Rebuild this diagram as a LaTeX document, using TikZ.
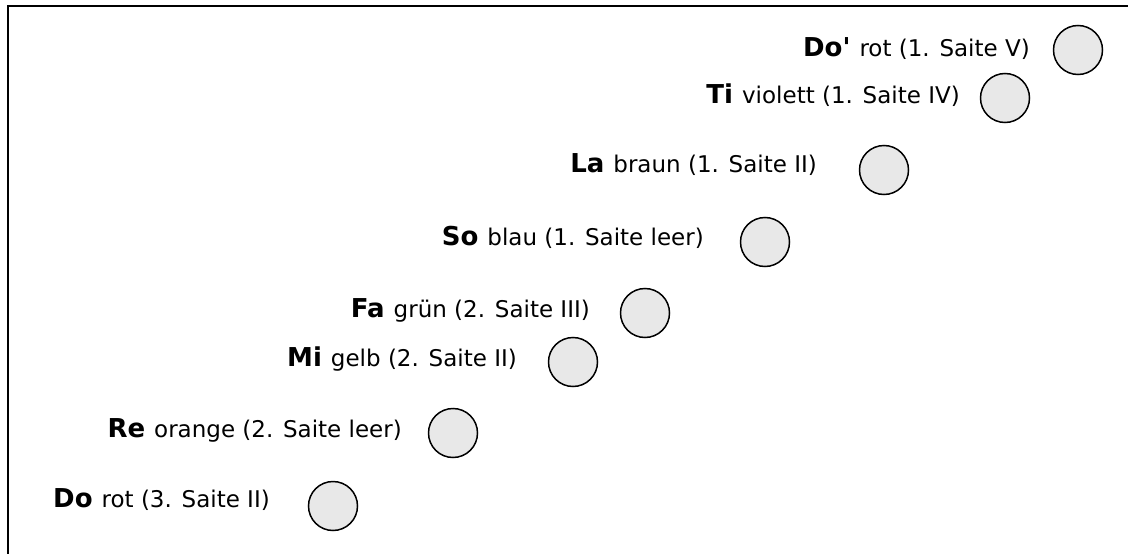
\documentclass[tikz,border=0pt]{standalone}
\usepackage{fontspec}
\setmainfont{DejaVu Sans}[Ligatures=TeXOff]
\begin{document}
\begin{tikzpicture}[x=1pt,y=-1pt,
  note/.style={circle,draw=black,line width=1.5pt,fill=gray!18,minimum size=49pt,inner sep=0pt},
  lab/.style={anchor=base east,inner sep=0pt,font=\fontsize{23}{23}\selectfont}]
\useasboundingbox (0,0) rectangle (1128,554);
\coordinate (tl) at (8,6);
\coordinate (tr) at (1128,6);
\coordinate (bl) at (8,554);
\draw[line width=2pt] (bl) -- (tl) -- (tr);
\newcommand{\nm}[1]{{\bfseries\fontsize{26}{26}\selectfont #1}\hspace{9pt}}
\node[note] (c1) at (1078,50) {};
\node[note] (c2) at (1005,98) {};
\node[note] (c3) at (884,170) {};
\node[note] (c4) at (765,242) {};
\node[note] (c5) at (645,313) {};
\node[note] (c6) at (573,362) {};
\node[note] (c7) at (453,433) {};
\node[note] (c8) at (333,506) {};
\node[lab] (l1) at (1030,56) {\nm{Do'}rot (1. Saite V)};
\node[lab] (l2) at (960,103) {\nm{Ti}violett (1. Saite IV)};
\node[lab] (l3) at (817,172) {\nm{La}braun (1. Saite II)};
\node[lab] (l4) at (704,245) {\nm{So}blau (1. Saite leer)};
\node[lab] (l5) at (590,317) {\nm{Fa}grün (2. Saite III)};
\node[lab] (l6) at (517,366) {\nm{Mi}gelb (2. Saite II)};
\node[lab] (l7) at (402,437) {\nm{Re}orange (2. Saite leer)};
\node[lab] (l8) at (270,507) {\nm{Do}rot (3. Saite II)};
\end{tikzpicture}
\end{document}
